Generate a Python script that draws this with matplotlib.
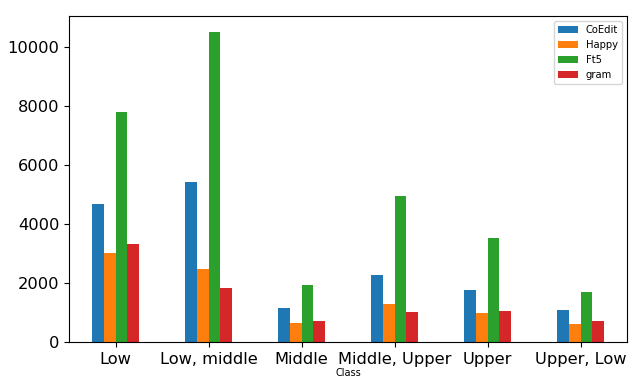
import numpy as np
import matplotlib
matplotlib.use("Agg")
import matplotlib.pyplot as plt

# class labels and counts per model
classes = ["Low", "Low, middle", "Middle", "Middle, Upper", "Upper", "Upper, Low"]
coedit = [4670, 5410, 1150, 2270, 1760, 1080]
happy = [3010, 2470, 640, 1290, 980, 610]
ft5 = [7780, 10520, 1930, 4940, 3520, 1690]
gram = [3320, 1830, 710, 1020, 1050, 710]

series = [("CoEdit", coedit), ("Happy", happy), ("Ft5", ft5), ("gram", gram)]
colors = ["#1f77b4", "#ff7f0e", "#2ca02c", "#d62728"]

fig = plt.figure(figsize=(6.38, 3.86), dpi=100)
ax = fig.add_axes([69 / 638, 1 - 342 / 386, (627 - 69) / 638, (342 - 16) / 386])

x = np.arange(len(classes))
w = 0.125
for i, (name, vals) in enumerate(series):
    ax.bar(x + (i - 1.5) * w, vals, w, color=colors[i], label=name)

ax.set_xlim(-0.5, len(classes) - 0.5)
ax.set_xticks(x)
ax.set_xticklabels(classes, fontsize=11.7)
ax.tick_params(axis="y", labelsize=11.7)
ax.set_xlabel("Class", fontsize=7, labelpad=1)
ax.legend(fontsize=7.2, loc="upper right")

fig.savefig("out.png", dpi=100)
